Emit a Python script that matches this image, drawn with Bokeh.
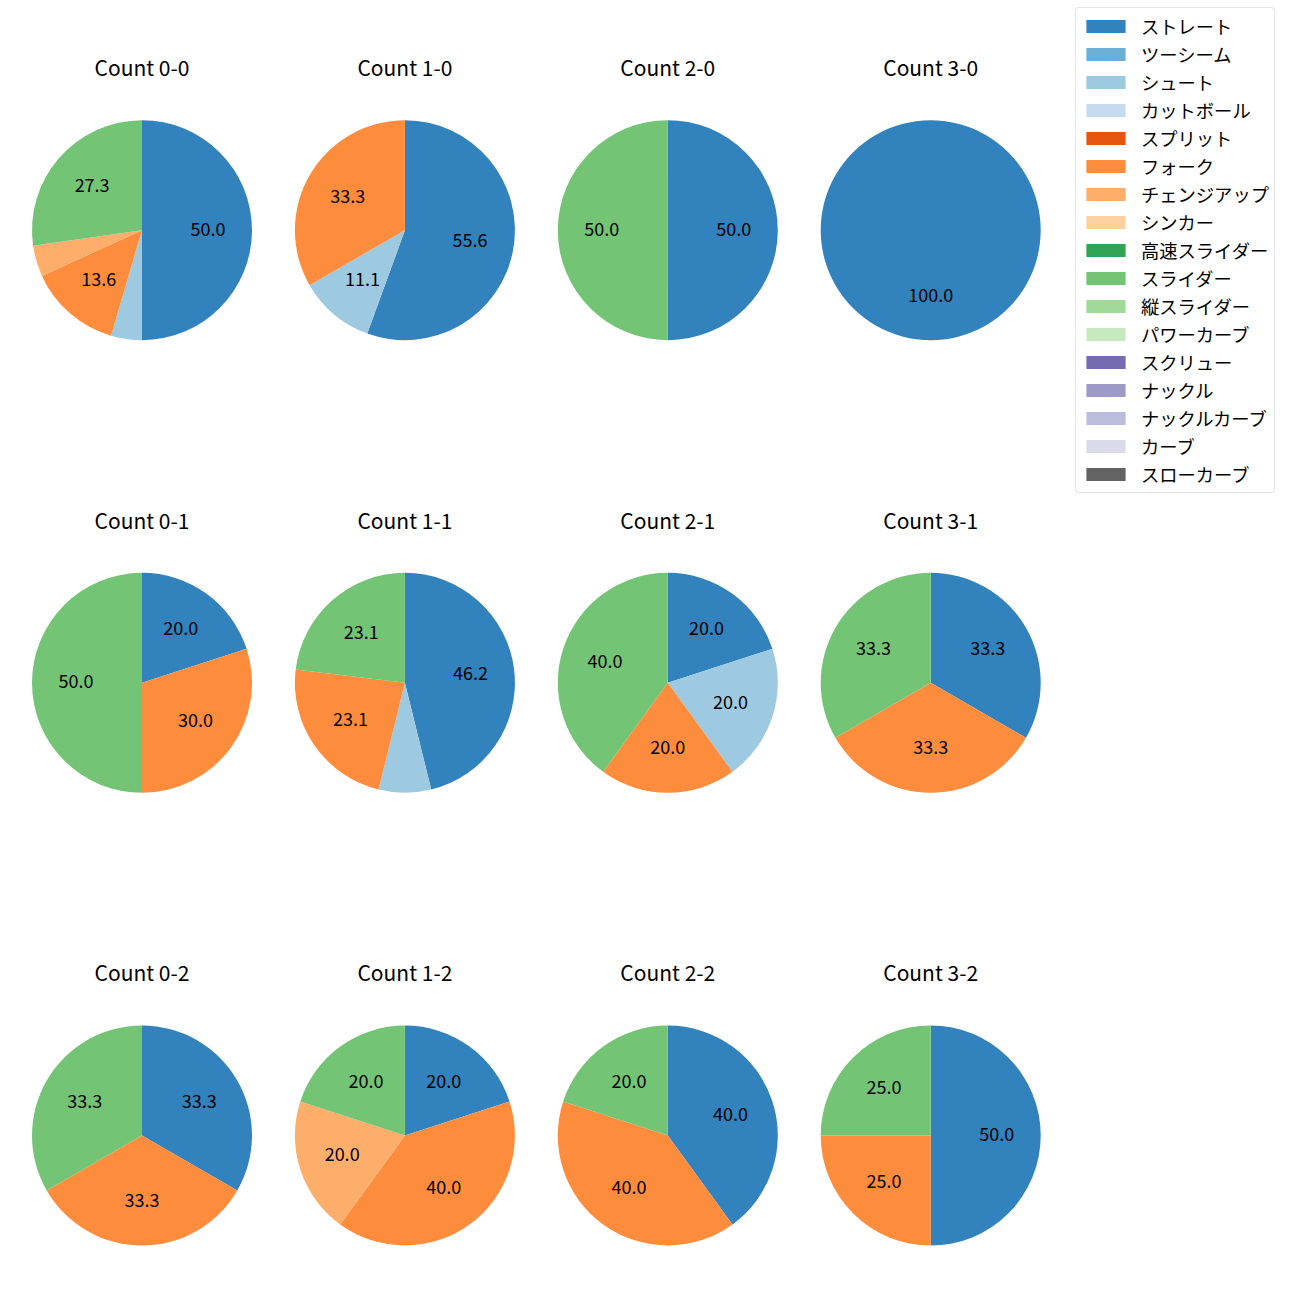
import math
from bokeh.plotting import figure
from bokeh.models import ColumnDataSource, Range1d, Legend, LegendItem
from bokeh.core.properties import value
from bokeh.embed import file_html
from bokeh.resources import INLINE

# ---------------- data ----------------
pitch_types = ["ストレート", "ツーシーム", "シュート", "カットボール", "スプリット", "フォーク",
               "チェンジアップ", "シンカー", "高速スライダー", "スライダー", "縦スライダー",
               "パワーカーブ", "スクリュー", "ナックル", "ナックルカーブ", "カーブ", "スローカーブ"]
pitch_colors = ["#3182bd", "#6baed6", "#9ecae1", "#c6dbef", "#e6550d", "#fd8d3c",
                "#fdae6b", "#fdd0a2", "#31a354", "#74c476", "#a1d99b", "#c7e9c0",
                "#756bb1", "#9e9ac8", "#bcbddc", "#dadaeb", "#636363"]

count_labels = ["0-0", "1-0", "2-0", "3-0",
                "0-1", "1-1", "2-1", "3-1",
                "0-2", "1-2", "2-2", "3-2"]

# pitch counts per ball-strike count (same order as count_labels)
straight = [11, 5, 1, 1, 2, 6, 1, 1, 1, 1, 2, 2]
shoot    = [1, 1, 0, 0, 0, 1, 1, 0, 0, 0, 0, 0]
fork     = [3, 3, 0, 0, 3, 3, 1, 1, 1, 2, 2, 1]
changeup = [1, 0, 0, 0, 0, 0, 0, 0, 0, 1, 0, 0]
slider   = [6, 0, 1, 0, 5, 3, 2, 1, 1, 1, 1, 1]

series = {"ストレート": straight, "シュート": shoot, "フォーク": fork,
          "チェンジアップ": changeup, "スライダー": slider}

# ---------------- layout (screen pixels) ----------------
FONT = "Noto Sans CJK JP"
W = H = 1292
col_x = [141.5, 404.4, 667.3, 930.2]
row_y = [229.7, 682.3, 1135.0]
R = 110.0
TITLE_DY = 163.3
LABEL_FRAC = 0.6
LABEL_DY = 1.5
MIN_PCT_LABEL = 10.0

def sy(y):  # screen y -> data y
    return H - y

p = figure(width=W, height=H, output_backend="svg", toolbar_location=None,
           x_range=Range1d(0, W), y_range=Range1d(0, H),
           x_axis_type=None, y_axis_type=None, min_border=0,
           outline_line_color=None, background_fill_color="white")
p.grid.visible = False

wx, wy, ws, we, wc = [], [], [], [], []
lx, ly, lt = [], [], []
tx, ty, tt = [], [], []

for k, lab in enumerate(count_labels):
    cx = col_x[k % 4]
    cy = sy(row_y[k // 4])
    tx.append(cx); ty.append(cy + TITLE_DY); tt.append("Count " + lab)
    vals = [series.get(name, [0] * 12)[k] for name in pitch_types]
    total = float(sum(vals))
    cum = 0.0
    for name, col, v in zip(pitch_types, pitch_colors, vals):
        if v <= 0:
            continue
        f0 = cum / total
        f1 = (cum + v) / total
        cum += v
        a_start = math.pi / 2 - 2 * math.pi * f1
        a_end = math.pi / 2 - 2 * math.pi * f0
        if a_end - a_start >= 2 * math.pi - 1e-6:
            a_start = a_end - 2 * math.pi + 1e-4
        wx.append(cx); wy.append(cy); ws.append(a_start); we.append(a_end); wc.append(col)
        pct = 100.0 * v / total
        if pct >= MIN_PCT_LABEL:
            mid = math.pi / 2 - 2 * math.pi * (f0 + f1) / 2
            lx.append(cx + LABEL_FRAC * R * math.cos(mid))
            ly.append(cy + LABEL_FRAC * R * math.sin(mid) + LABEL_DY)
            lt.append(f"{pct:.1f}")

p.wedge(x="x", y="y", radius=R, start_angle="s", end_angle="e", direction="anticlock",
        fill_color="c", line_color=None,
        source=ColumnDataSource(dict(x=wx, y=wy, s=ws, e=we, c=wc)))

p.text(x="x", y="y", text="t", source=ColumnDataSource(dict(x=lx, y=ly, t=lt)),
       text_align="center", text_baseline="middle", text_color="black",
       text_font=value(FONT), text_font_size="18px")

p.text(x="x", y="y", text="t", source=ColumnDataSource(dict(x=tx, y=ty, t=tt)),
       text_align="center", text_baseline="middle", text_color="black",
       text_font=value(FONT), text_font_size="21px")

# legend with every pitch type (proxy renderers hold no visible marks)
nan = float("nan")
items = []
for name, col in zip(pitch_types, pitch_colors):
    r = p.quad(left=[nan], right=[nan], top=[nan], bottom=[nan], fill_color=col, line_color=None)
    items.append(LegendItem(label=name, renderers=[r]))

LEG_PAD = 5
LEG_SP = 2
LEG_BOTTOM = 493
legend = Legend(items=items, location=(1075, H - LEG_BOTTOM), orientation="vertical",
                padding=LEG_PAD, margin=0, spacing=LEG_SP, glyph_width=49, glyph_height=16,
                label_height=20, label_standoff=11,
                label_text_font=FONT, label_text_font_size="18.3px", label_text_color="black",
                border_line_color="#cccccc", border_line_width=1,
                background_fill_color="white", background_fill_alpha=1.0)
try:
    legend.border_radius = 4
except Exception:
    pass
p.add_layout(legend)

open("out.html", "w").write(file_html(p, INLINE))
